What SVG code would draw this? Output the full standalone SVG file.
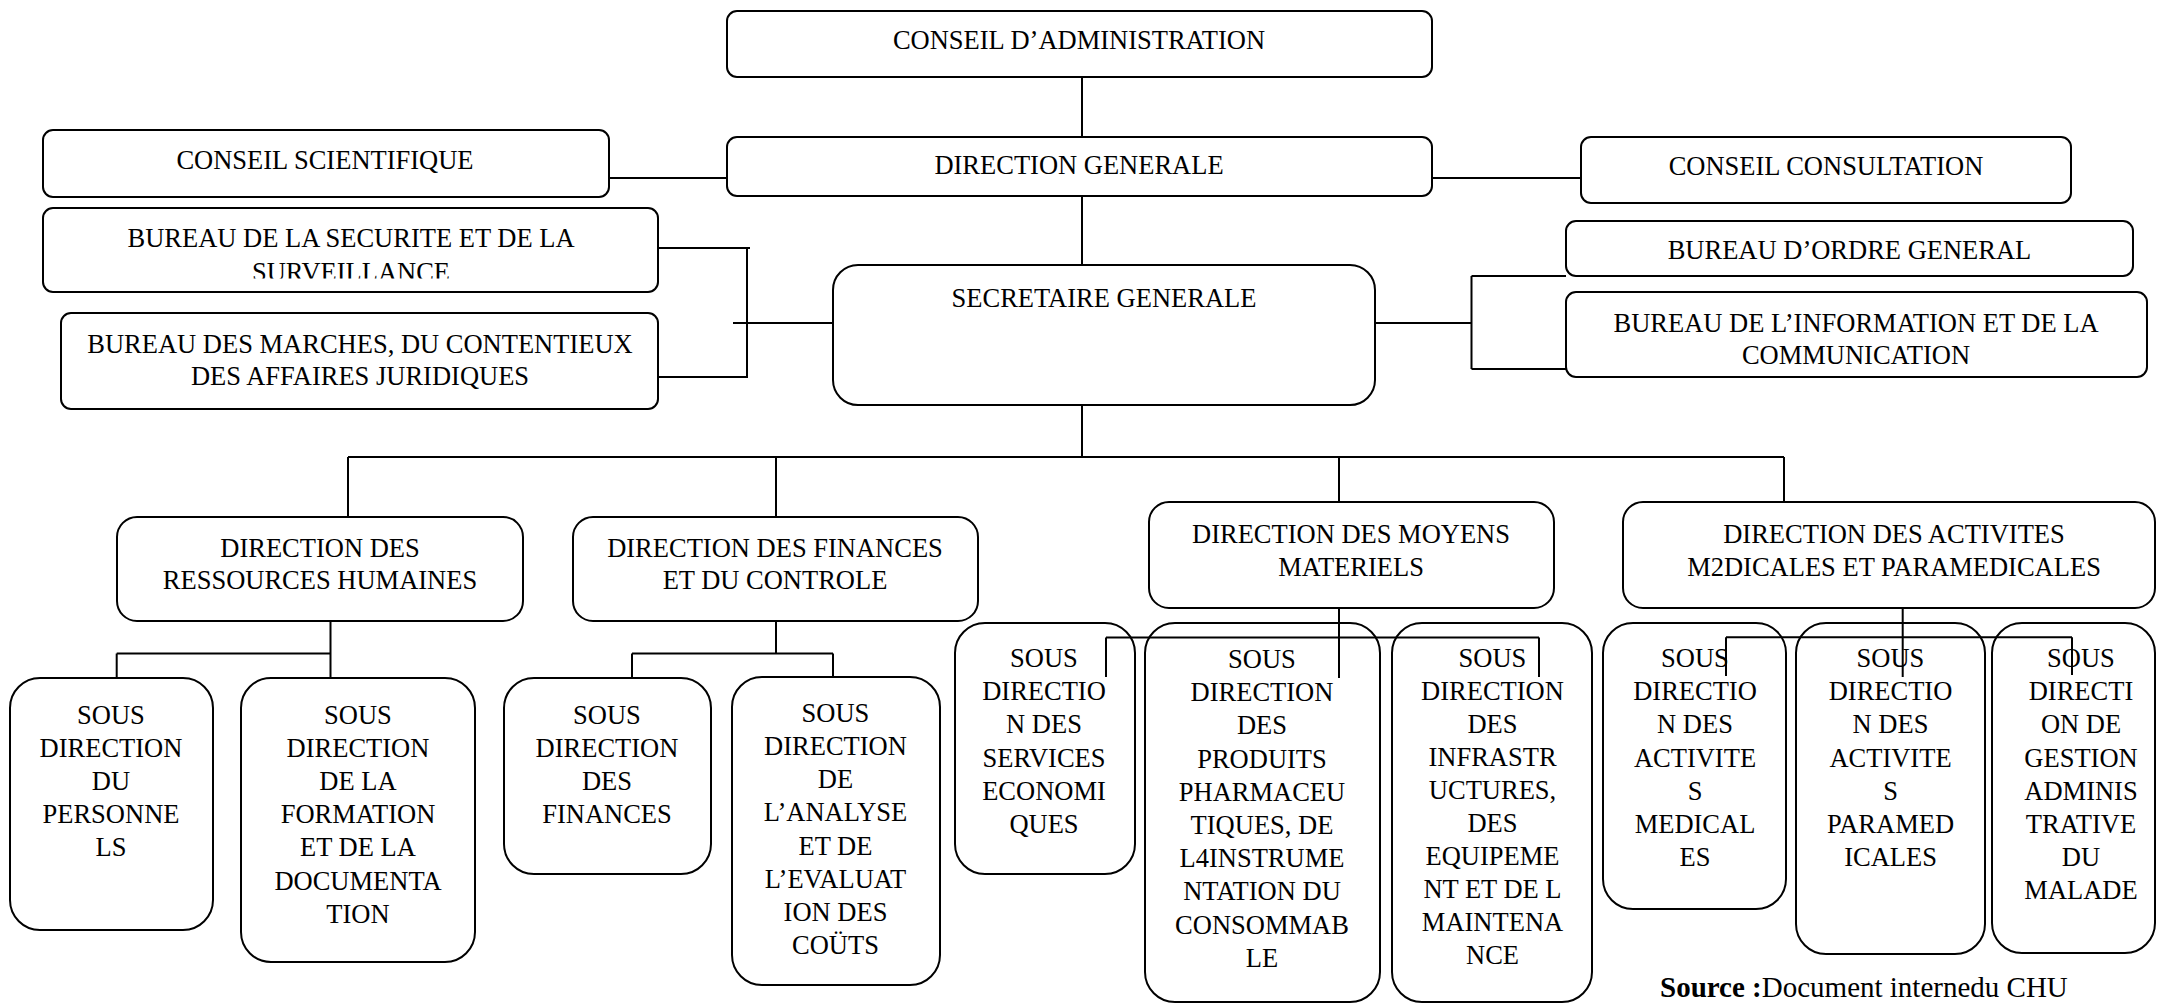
<svg xmlns="http://www.w3.org/2000/svg" width="2157" height="1003" viewBox="0 0 2157 1003">
<style>
.b{fill:#fff;stroke:#000;stroke-width:2}
.t{font-family:"Liberation Serif","Times New Roman",serif;font-size:26.5px;fill:#000;text-anchor:middle}
.c{fill:none;stroke:#000;stroke-width:2}
.s{font-family:"Liberation Serif","Times New Roman",serif;font-size:29px;fill:#000}
</style>
<defs>
<clipPath id="clipBSS"><rect x="43" y="208" width="615" height="70.5"/></clipPath>
</defs>
<rect width="2157" height="1003" fill="#fff"/>

<g id="n-ca"><rect class="b" x="727" y="11" width="705" height="66" rx="10"/><text class="t" x="1079" y="48.5">CONSEIL D’ADMINISTRATION</text></g>
<g id="n-dg"><rect class="b" x="727" y="137" width="705" height="59" rx="10"/><text class="t" x="1079" y="174">DIRECTION GENERALE</text></g>
<g id="n-cs"><rect class="b" x="43" y="130" width="566" height="67" rx="10"/><text class="t" x="325" y="168.5">CONSEIL SCIENTIFIQUE</text></g>
<g id="n-cc"><rect class="b" x="1581" y="137" width="490" height="66" rx="10"/><text class="t" x="1826" y="175">CONSEIL CONSULTATION</text></g>
<g id="n-bss"><rect class="b" x="43" y="208" width="615" height="84" rx="10"/><g clip-path="url(#clipBSS)"><text class="t" x="351" y="246.7">BUREAU DE LA SECURITE ET DE LA</text><text class="t" x="351" y="281">SURVEILLANCE</text></g></g>
<g id="n-bmc"><rect class="b" x="61" y="313" width="597" height="96" rx="10"/><text class="t" x="360" y="353">BUREAU DES MARCHES, DU CONTENTIEUX</text><text class="t" x="360" y="385">DES AFFAIRES JURIDIQUES</text></g>
<g id="n-sg"><rect class="b" x="833" y="265" width="542" height="140" rx="25"/><text class="t" x="1104" y="306.5">SECRETAIRE GENERALE</text></g>
<g id="n-bog"><rect class="b" x="1566" y="221" width="567" height="55" rx="10"/><text class="t" x="1849.5" y="259">BUREAU D’ORDRE GENERAL</text></g>
<g id="n-bic"><rect class="b" x="1566" y="292" width="581" height="85" rx="10"/><text class="t" x="1856" y="332">BUREAU DE L’INFORMATION ET DE LA</text><text class="t" x="1856" y="364">COMMUNICATION</text></g>

<g id="n-drh"><rect class="b" x="117" y="517" width="406" height="104" rx="20"/><text class="t" x="320" y="557">DIRECTION DES</text><text class="t" x="320" y="589">RESSOURCES HUMAINES</text></g>
<g id="n-dfc"><rect class="b" x="573" y="517" width="405" height="104" rx="20"/><text class="t" x="775" y="557">DIRECTION DES FINANCES</text><text class="t" x="775" y="589">ET DU CONTROLE</text></g>
<g id="n-dmm"><rect class="b" x="1149" y="502" width="405" height="106" rx="20"/><text class="t" x="1351" y="543">DIRECTION DES MOYENS</text><text class="t" x="1351" y="576">MATERIELS</text></g>
<g id="n-damp"><rect class="b" x="1623" y="502" width="532" height="106" rx="20"/><text class="t" x="1894" y="543">DIRECTION DES ACTIVITES</text><text class="t" x="1894" y="576">M2DICALES ET PARAMEDICALES</text></g>

<g id="n-sdp"><rect class="b" x="10" y="678" width="203" height="252" rx="30"/><text class="t" x="111"><tspan x="111" y="723.5">SOUS</tspan><tspan x="111" y="756.7">DIRECTION</tspan><tspan x="111" y="789.9">DU</tspan><tspan x="111" y="823.1">PERSONNE</tspan><tspan x="111" y="856.3">LS</tspan></text></g>
<g id="n-sdf"><rect class="b" x="241" y="678" width="234" height="284" rx="30"/><text class="t" x="358"><tspan x="358" y="723.5">SOUS</tspan><tspan x="358" y="756.7">DIRECTION</tspan><tspan x="358" y="789.9">DE LA</tspan><tspan x="358" y="823.1">FORMATION</tspan><tspan x="358" y="856.3">ET DE LA</tspan><tspan x="358" y="889.5">DOCUMENTA</tspan><tspan x="358" y="922.7">TION</tspan></text></g>
<g id="n-sdfin"><rect class="b" x="504" y="678" width="207" height="196" rx="30"/><text class="t" x="607"><tspan x="607" y="723.5">SOUS</tspan><tspan x="607" y="756.7">DIRECTION</tspan><tspan x="607" y="789.9">DES</tspan><tspan x="607" y="823.1">FINANCES</tspan></text></g>
<g id="n-sda"><rect class="b" x="732" y="677" width="208" height="308" rx="30"/><text class="t" x="835.5"><tspan x="835.5" y="721.7">SOUS</tspan><tspan x="835.5" y="754.9">DIRECTION</tspan><tspan x="835.5" y="788.1">DE</tspan><tspan x="835.5" y="821.3">L’ANALYSE</tspan><tspan x="835.5" y="854.5">ET DE</tspan><tspan x="835.5" y="887.7">L’EVALUAT</tspan><tspan x="835.5" y="920.9">ION DES</tspan><tspan x="835.5" y="954.1">COÜTS</tspan></text></g>
<g id="n-sdse"><rect class="b" x="955" y="623" width="180" height="251" rx="30"/><text class="t" x="1044"><tspan x="1044" y="667">SOUS</tspan><tspan x="1044" y="700.2">DIRECTIO</tspan><tspan x="1044" y="733.4">N DES</tspan><tspan x="1044" y="766.6">SERVICES</tspan><tspan x="1044" y="799.8">ECONOMI</tspan><tspan x="1044" y="833">QUES</tspan></text></g>
<g id="n-sdpp"><rect class="b" x="1145" y="623" width="235" height="379" rx="30"/><text class="t" x="1262"><tspan x="1262" y="668">SOUS</tspan><tspan x="1262" y="701.2">DIRECTION</tspan><tspan x="1262" y="734.4">DES</tspan><tspan x="1262" y="767.6">PRODUITS</tspan><tspan x="1262" y="800.8">PHARMACEU</tspan><tspan x="1262" y="834">TIQUES, DE</tspan><tspan x="1262" y="867.2">L4INSTRUME</tspan><tspan x="1262" y="900.4">NTATION DU</tspan><tspan x="1262" y="933.6">CONSOMMAB</tspan><tspan x="1262" y="966.8">LE</tspan></text></g>
<g id="n-sdi"><rect class="b" x="1392" y="623" width="200" height="379" rx="30"/><text class="t" x="1492.5"><tspan x="1492.5" y="667">SOUS</tspan><tspan x="1492.5" y="700">DIRECTION</tspan><tspan x="1492.5" y="733">DES</tspan><tspan x="1492.5" y="766">INFRASTR</tspan><tspan x="1492.5" y="799">UCTURES,</tspan><tspan x="1492.5" y="832">DES</tspan><tspan x="1492.5" y="865">EQUIPEME</tspan><tspan x="1492.5" y="898">NT ET DE L</tspan><tspan x="1492.5" y="931">MAINTENA</tspan><tspan x="1492.5" y="964">NCE</tspan></text></g>
<g id="n-sdam"><rect class="b" x="1603" y="623" width="183" height="286" rx="30"/><text class="t" x="1695"><tspan x="1695" y="667">SOUS</tspan><tspan x="1695" y="700.2">DIRECTIO</tspan><tspan x="1695" y="733.4">N DES</tspan><tspan x="1695" y="766.6">ACTIVITE</tspan><tspan x="1695" y="799.8">S</tspan><tspan x="1695" y="833">MEDICAL</tspan><tspan x="1695" y="866.2">ES</tspan></text></g>
<g id="n-sdap"><rect class="b" x="1796" y="623" width="189" height="331" rx="30"/><text class="t" x="1890.5"><tspan x="1890.5" y="667">SOUS</tspan><tspan x="1890.5" y="700.2">DIRECTIO</tspan><tspan x="1890.5" y="733.4">N DES</tspan><tspan x="1890.5" y="766.6">ACTIVITE</tspan><tspan x="1890.5" y="799.8">S</tspan><tspan x="1890.5" y="833">PARAMED</tspan><tspan x="1890.5" y="866.2">ICALES</tspan></text></g>
<g id="n-sdg"><rect class="b" x="1992" y="623" width="163" height="330" rx="30"/><text class="t" x="2081"><tspan x="2081" y="667">SOUS</tspan><tspan x="2081" y="700.2">DIRECTI</tspan><tspan x="2081" y="733.4">ON DE</tspan><tspan x="2081" y="766.6">GESTION</tspan><tspan x="2081" y="799.8">ADMINIS</tspan><tspan x="2081" y="833">TRATIVE</tspan><tspan x="2081" y="866.2">DU</tspan><tspan x="2081" y="899.4">MALADE</tspan></text></g>

<g id="connectors">
<path class="c" d="M1082 77V137M1082 196V265M1082 405V457"/>
<path class="c" d="M609 178H727M1432 178H1581"/>
<path class="c" d="M658 248H750M747 248V377M658 377H748M733 323H833"/>
<path class="c" d="M1471.5 276H1566M1471.5 276V369M1471.5 369H1566M1375 323H1471.5"/>
<path class="c" d="M348 457H1784M348 457V517M776 457V517M1339 457V502M1784 457V502"/>
<path class="c" d="M116.7 653.5V678M116.7 653.5H330.5M330.5 621V678"/>
<path class="c" d="M776 621V653.5M632 653.5H833M632 653.5V678M833 653.5V676"/>
<path class="c" d="M1339 608V678M1106 637.5H1539M1106 637.5V677M1539 637.5V677"/>
<path class="c" d="M1902.7 608V677M1726 637.3H2072M1726 637.3V676M2072 637.3V675"/>
</g>

<g id="source"><text class="s" x="1660" y="997"><tspan font-weight="bold">Source :</tspan>Document internedu CHU</text></g>
</svg>
